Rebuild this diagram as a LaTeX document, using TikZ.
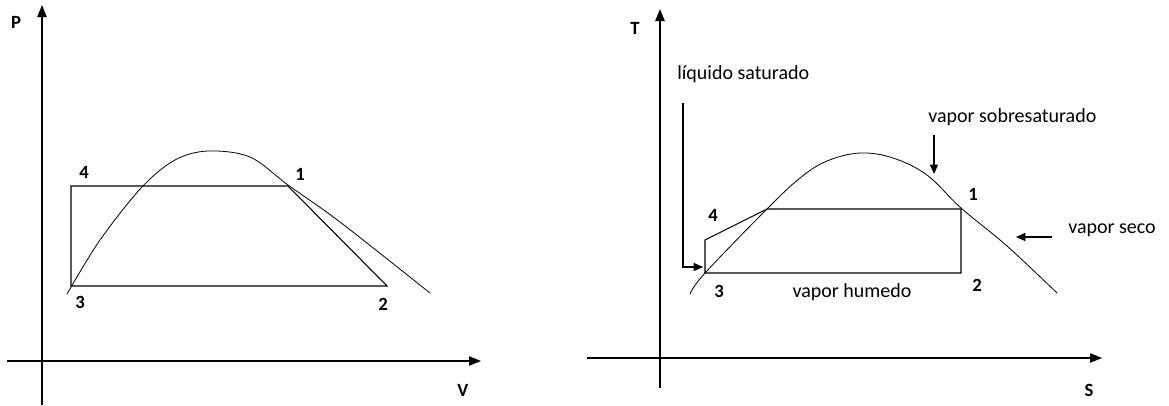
\documentclass[tikz,border=0pt]{standalone}
\usepackage{fontspec}
\setmainfont{Carlito}
\usetikzlibrary{arrows.meta}
\begin{document}
\begin{tikzpicture}[x=0.75pt,y=-0.75pt,
  ax/.style={line width=0.9pt,-{Triangle[length=9pt,width=7pt]}},
  ln/.style={line width=0.8pt},
  crv/.style={line width=0.6pt},
  ptr/.style={line width=0.8pt,-{Triangle[length=7pt,width=6pt]}},
  lbl/.style={font=\bfseries\fontsize{14}{16}\selectfont,inner sep=0pt},
  txt/.style={font=\fontsize{15}{17}\selectfont,inner sep=0pt}]
\useasboundingbox (0,0) rectangle (1169,405);
% ---------- left panel: P-V ----------
\coordinate (pvO1) at (42,405);
\coordinate (pvT) at (42,5);
\coordinate (pvL) at (7,361);
\coordinate (pvR) at (481,361);
\draw[ax] (pvO1) -- (pvT);
\draw[ax] (pvL) -- (pvR);
\node[lbl] (P) at (16,22) {P};
\node[lbl] (V) at (463,390) {V};
\coordinate (a4) at (71,186);
\coordinate (a1) at (288,186);
\coordinate (a3) at (71,286);
\coordinate (a2) at (387,286);
\draw[ln] (a3) -- (a4) -- (a1) -- (a2) -- cycle;
\draw[crv] plot[smooth,tension=0.55] coordinates {(67,294) (100,240) (142,187) (175,160) (208,151) (250,157) (288,185) (340,222) (430,293)};
\node[lbl] (n4a) at (84,172) {4};
\node[lbl] (n1a) at (300,174) {1};
\node[lbl] (n3a) at (80,302) {3};
\node[lbl] (n2a) at (383,304) {2};
% ---------- right panel: T-S ----------
\coordinate (tsO1) at (660,388);
\coordinate (tsT) at (660,9);
\coordinate (tsL) at (587,358);
\coordinate (tsR) at (1102,358);
\draw[ax] (tsO1) -- (tsT);
\draw[ax] (tsL) -- (tsR);
\node[lbl] (T) at (635,28) {T};
\node[lbl] (S) at (1089,390) {S};
\coordinate (b3) at (705,273);
\coordinate (b4) at (705,240);
\coordinate (b5) at (767,209);
\coordinate (b1) at (961,209);
\coordinate (b2) at (961,273);
\draw[ln] (b3) -- (b4) -- (b5) -- (b1) -- (b2) -- cycle;
\draw[crv] plot[smooth,tension=0.6] coordinates {(690,294) (705,273) (767,209) (800,178) (827,161) (860,153) (893,158) (927,175) (961,208) (1007,246) (1057,293)};
\node[lbl] (n4b) at (713,215) {4};
\node[lbl] (n1b) at (973,194) {1};
\node[lbl] (n3b) at (719,291) {3};
\node[lbl] (n2b) at (977,285) {2};
\node[txt,anchor=west] (liq) at (677,74) {líquido saturado};
\coordinate (liqA) at (683,103);
\coordinate (liqB) at (683,267);
\coordinate (liqC) at (703,267);
\draw[ptr] (liqA) -- (liqB) -- (liqC);
\node[txt,anchor=west] (vss) at (928,117) {vapor sobresaturado};
\coordinate (vssA) at (934,135);
\coordinate (vssB) at (934,174);
\draw[ptr] (vssA) -- (vssB);
\node[txt,anchor=west] (vsec) at (1068,230) {vapor seco};
\coordinate (vsecA) at (1052,237);
\coordinate (vsecB) at (1016,237);
\draw[ptr] (vsecA) -- (vsecB);
\node[txt] (vhum) at (852,292) {vapor humedo};
\end{tikzpicture}
\end{document}
